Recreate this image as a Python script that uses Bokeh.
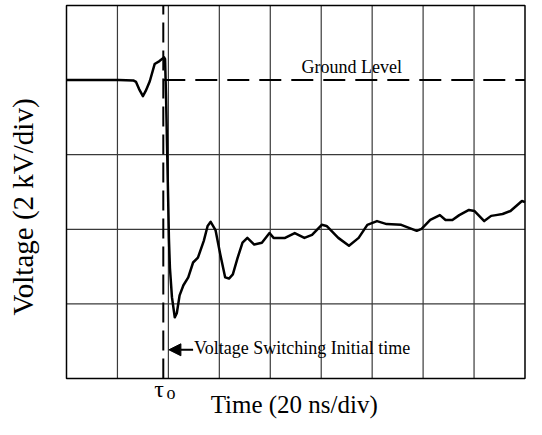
from bokeh.plotting import figure
from bokeh.models import Label, Arrow, NormalHead, Range1d
from bokeh.embed import file_html
from bokeh.resources import INLINE

# Waveform (time in ns, voltage in kV; ground = 0)
time_ns = [0.0, 20.5, 26.2, 27.3, 28.5, 30.0, 31.1, 32.7, 34.6, 36.5, 38.3, 38.7,
           39.1, 39.5, 39.9, 40.2, 40.6, 41.4, 42.5, 43.3, 44.4, 45.9, 47.8, 49.7,
           51.6, 53.9, 55.4, 56.6, 58.5, 60.4, 62.3, 63.8, 65.3, 67.2, 69.1, 71.0,
           73.7, 76.7, 79.7, 81.3, 85.8, 89.6, 93.4, 96.4, 100.2, 102.1, 106.7,
           110.9, 114.7, 118.1, 121.9, 125.7, 131.4, 137.5, 139.4, 142.8, 146.6,
           148.8, 151.5, 154.2, 158.0, 160.2, 164.0, 166.7, 168.6, 171.2, 174.3,
           178.8, 180.0]
voltage_kv = [0.0, 0.0, -0.01, -0.05, -0.24, -0.43, -0.29, -0.03, 0.43, 0.51, 0.61, 0.56,
              -0.51, -1.84, -3.16, -4.23, -5.03, -5.82, -6.36, -6.25, -5.77, -5.50, -5.29, -4.89,
              -4.76, -4.31, -3.91, -3.80, -4.02, -4.68, -5.29, -5.32, -5.21, -4.76, -4.36, -4.23,
              -4.41, -4.36, -4.10, -4.23, -4.23, -4.10, -4.23, -4.15, -3.88, -3.91, -4.23,
              -4.44, -4.23, -3.88, -3.78, -3.86, -3.88, -4.04, -3.99, -3.75, -3.62,
              -3.75, -3.75, -3.62, -3.48, -3.51, -3.78, -3.64, -3.62, -3.59, -3.51,
              -3.24, -3.27]

grid_time_ns = [0, 20, 40, 60, 80, 100, 120, 140, 160, 180]
grid_voltage_kv = [-8, -6, -4, -2, 0, 2]
tau0_ns = 38.0
ground_kv = 0.0

SERIF = "Liberation Serif"

t_min, t_max = grid_time_ns[0], grid_time_ns[-1]
v_min, v_max = grid_voltage_kv[0], grid_voltage_kv[-1]

p = figure(width=526, height=419, x_range=Range1d(-25.91, 180.59),
           y_range=Range1d(-9.099, 2.134),
           output_backend="svg", toolbar_location=None,
           min_border_left=0, min_border_right=0, min_border_top=0, min_border_bottom=0)
p.xaxis.visible = False
p.yaxis.visible = False
p.grid.visible = False
p.outline_line_color = None
p.background_fill_color = "white"
p.border_fill_color = "white"

# Oscilloscope graticule (interior lines; the ground division is dashed below)
inner_t = grid_time_ns[1:-1]
p.segment(x0=inner_t, y0=[v_min] * len(inner_t), x1=inner_t, y1=[v_max] * len(inner_t),
          line_color="#3a3a3a", line_width=1.2)
inner_v = [v for v in grid_voltage_kv[1:-1] if v != ground_kv]
p.segment(x0=[t_min] * len(inner_v), y0=inner_v, x1=[t_max] * len(inner_v), y1=inner_v,
          line_color="#3a3a3a", line_width=1.2)
p.quad(left=[t_min], right=[t_max], bottom=[v_min], top=[v_max], fill_alpha=0,
       line_color="black", line_width=1.5)

# Ground level dashed line (from tau0 onwards) and tau0 dashed marker
p.line([tau0_ns, t_max], [ground_kv, ground_kv], line_color="black", line_width=2,
       line_dash="22 10")
p.line([tau0_ns, tau0_ns], [v_min, v_max], line_color="black", line_width=2,
       line_dash="20 8")

# Waveform
p.line(time_ns, voltage_kv, line_color="black", line_width=2.5, line_join="round")

# Annotations inside the graticule
p.add_layout(Label(x=112.0, y=0.35, text="Ground Level", text_font=SERIF,
                   text_font_size="18px", text_align="center", text_baseline="alphabetic",
                   text_color="black"))
p.add_layout(Arrow(end=NormalHead(size=12, fill_color="black", line_color="black"),
                   x_start=49.7, y_start=-7.23, x_end=40.2, y_end=-7.23,
                   line_width=2, line_color="black"))
p.add_layout(Label(x=50.1, y=-7.19, text="Voltage Switching Initial time", text_font=SERIF,
                   text_font_size="18px", text_align="left", text_baseline="alphabetic",
                   text_color="black"))

# Axis titles and tau0 mark
p.add_layout(Label(x=89.4, y=-9.07, text="Time (20 ns/div)", text_font=SERIF,
                   text_font_size="25px", text_align="center", text_baseline="bottom",
                   text_color="black"))
p.add_layout(Label(x=-17.2, y=-3.4, text="Voltage (2 kV/div)", text_font=SERIF,
                   text_font_size="29px", text_align="center", text_baseline="middle",
                   angle=90, angle_units="deg", text_color="black"))
p.add_layout(Label(x=36.3, y=-8.27, text="τ", text_font=SERIF,
                   text_font_size="24px", text_align="center", text_baseline="alphabetic",
                   text_color="black"))
p.add_layout(Label(x=39.3, y=-8.38, text="o", text_font=SERIF,
                   text_font_size="18px", text_align="left", text_baseline="alphabetic",
                   text_color="black"))

open("out.html", "w").write(file_html(p, INLINE))
